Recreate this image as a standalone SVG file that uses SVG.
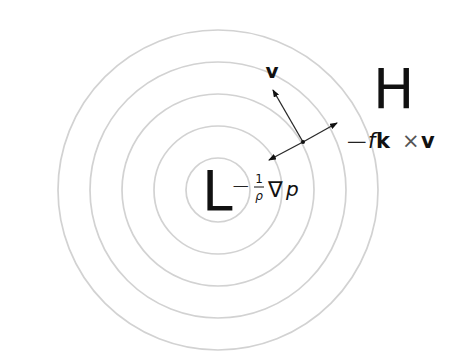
<svg xmlns="http://www.w3.org/2000/svg" width="457" height="363" viewBox="0 0 457 363">
<style>
.iso{fill:none;stroke:#d2d2d2;stroke-width:1.7}
.vec{stroke:#2a2a2a;stroke-width:1.3;fill:none}
.t{font-family:"DejaVu Sans",sans-serif;fill:#111}
.m{fill:#222;font-weight:200}
</style>
<defs>
<marker id="ah" markerWidth="8" markerHeight="6" refX="7" refY="3" orient="auto" markerUnits="userSpaceOnUse">
<path d="M0,0 L8,3 L0,6 Z" fill="#111"/>
</marker>
</defs>
<rect width="457" height="363" fill="#fff"/>
<g id="isobars">
<circle class="iso" cx="218" cy="190" r="32"/>
<circle class="iso" cx="218" cy="190" r="64"/>
<circle class="iso" cx="218" cy="190" r="96"/>
<circle class="iso" cx="218" cy="190" r="128"/>
<circle class="iso" cx="218" cy="190" r="160"/>
</g>
<g id="low"><text class="t" x="202" y="210" font-size="55">L</text></g>
<g id="high"><text class="t" x="373" y="108" font-size="55">H</text></g>
<g id="connectors">
<line class="vec" x1="303" y1="142" x2="273" y2="90" marker-end="url(#ah)"/>
<line class="vec" x1="303" y1="142" x2="337" y2="123" marker-end="url(#ah)"/>
<line class="vec" x1="303" y1="142" x2="269" y2="160" marker-end="url(#ah)"/>
<circle cx="303" cy="142" r="2" fill="#111"/>
</g>
<g id="label-v"><text class="t" x="272" y="78" font-size="20" font-weight="bold" text-anchor="middle">v</text></g>
<g id="label-coriolis">
<text class="t m" x="345" y="151" font-size="28">−</text>
<text class="t" y="148" font-size="21"><tspan x="368" font-style="italic">f</tspan><tspan x="376" font-weight="bold">k</tspan><tspan x="402" fill="#555">×</tspan><tspan x="421" font-weight="bold">v</tspan></text>
</g>
<g id="label-pressure">
<text class="t m" x="231" y="194" font-size="23">−</text>
<text class="t" x="259" y="183" font-size="12" text-anchor="middle">1</text>
<line x1="254" y1="187" x2="264" y2="187" stroke="#111" stroke-width="1"/>
<text class="t" x="259" y="200" font-size="12" font-style="italic" text-anchor="middle">ρ</text>
<text class="t" x="268" y="197" font-size="22">∇</text>
<text class="t" x="286" y="196" font-size="20" font-style="italic">p</text>
</g>
</svg>
